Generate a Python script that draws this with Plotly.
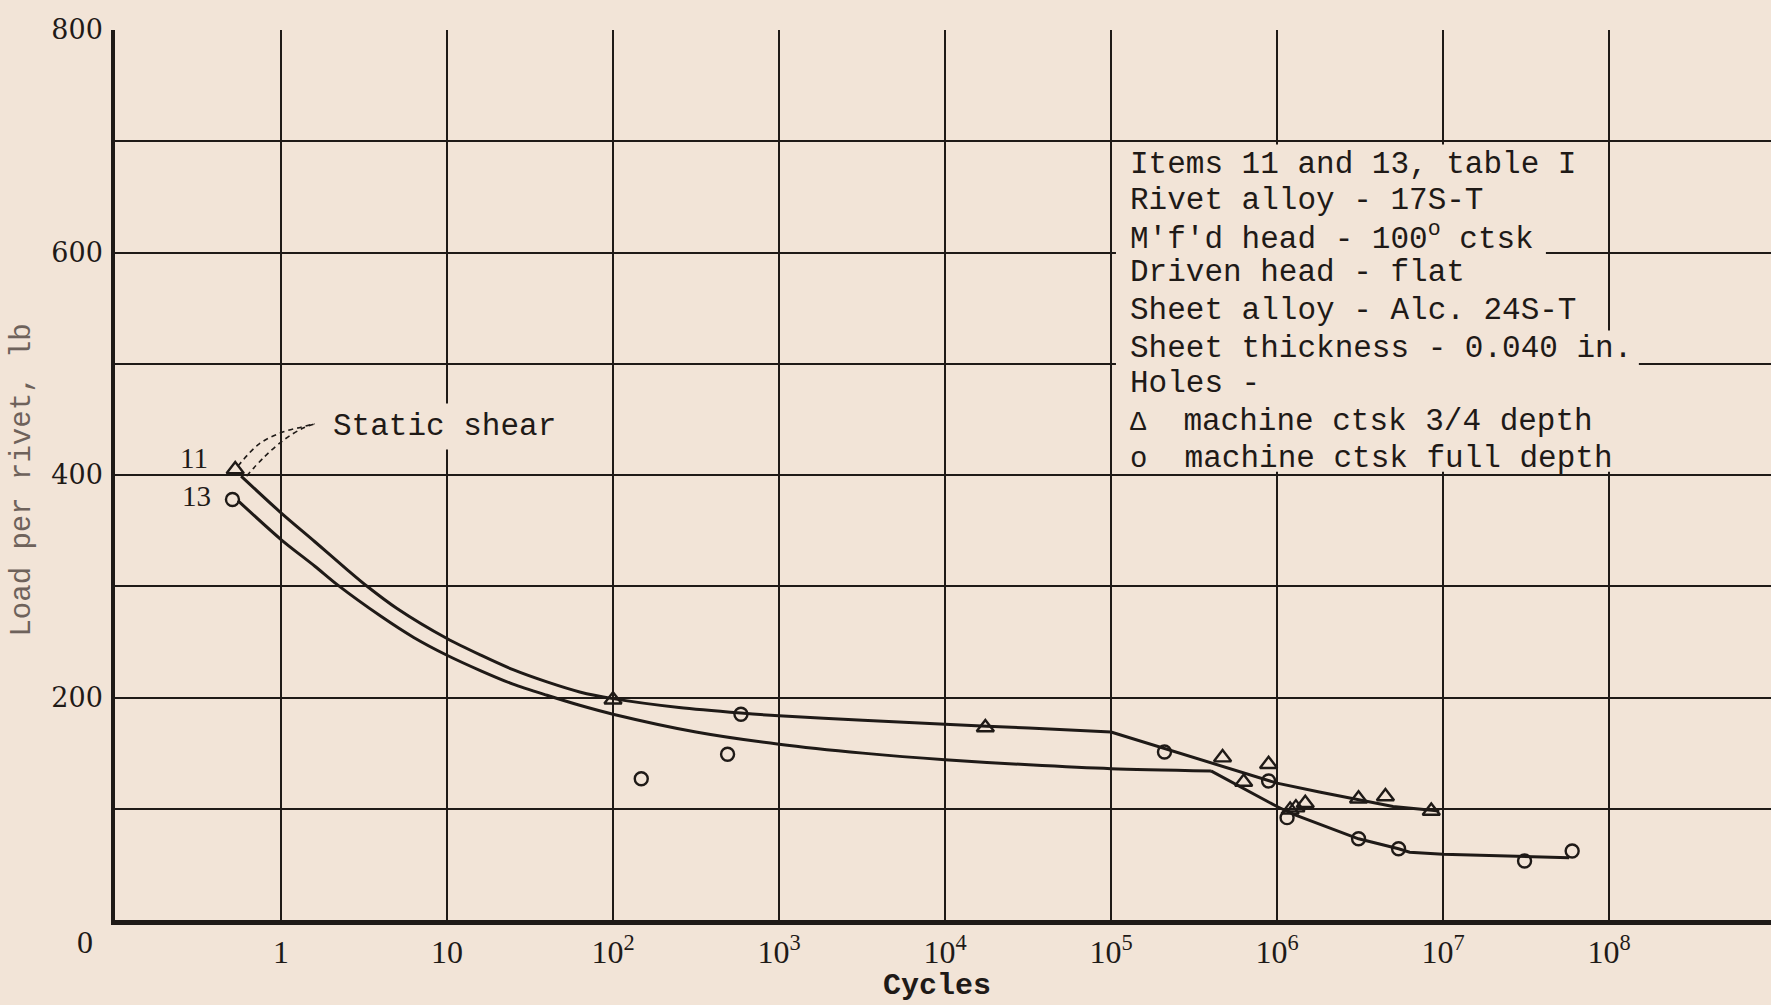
import plotly.graph_objects as go

# ---------------- data ----------------
# Static shear points (plotted just left of N = 1)
static_cycles = [0.53, 0.51]
static_loads = [405, 378]

# Triangle points: machine ctsk 3/4 depth
tri_cycles = [100, 17500, 470000, 630000, 890000, 1.2e6, 1.3e6, 1.48e6, 3.1e6, 4.5e6, 8.5e6]
tri_loads = [198, 173, 146, 124, 140, 99, 101, 105, 109, 111, 98]

# Circle points: machine ctsk full depth
cir_cycles = [148, 490, 590, 2.1e5, 8.9e5, 1.15e6, 3.1e6, 5.4e6, 3.1e7, 6.0e7]
cir_loads = [127, 149, 185, 151, 125, 92, 73, 64, 53, 62]

# Faired curve, item 11 (upper): smooth part, then straight part from the 1e5 knee
up_cycles = [0.575, 1, 1.6, 2.5, 3.3, 5, 10, 16, 25, 40, 63, 100, 250, 590, 1e3,
             3.2e3, 1e4, 3.2e4, 1e5, 2e5, 4.5e5, 1e6, 1.8e6, 3.1e6, 5e6, 9.5e6]
up_loads = [399, 366, 340, 315, 300, 280, 253, 238, 225, 214, 205, 199, 191, 186, 183.5,
            179.5, 176, 172.5, 169, 155, 139, 123, 115, 108, 102, 98]
up_knee = 18  # index of the 1e5 knee

# Faired curve, item 13 (lower): smooth part, then straight part from the 4e5 knee
lo_cycles = [0.55, 1, 1.6, 2.2, 4, 6.3, 10, 16, 25, 40, 63, 100, 316, 1e3, 3.2e3,
             1e4, 3.2e4, 1e5, 4e5, 1e6, 1.26e6, 3.1e6, 5.4e6, 6.3e6, 1e7, 3.2e7, 5.75e7]
lo_loads = [377, 342, 318, 301, 273, 254, 238, 224, 212, 202, 193, 185, 169, 158, 150,
            144, 139.5, 136, 134, 102, 95, 73, 64, 61, 59, 57, 56]
lo_knee = 18  # index of the 4e5 knee

# Dashed leaders to "Static shear"
lead1_cycles = [0.55, 0.74, 1.0, 1.32, 1.6]
lead1_loads = [408, 428, 438, 443, 446]
lead2_cycles = [0.62, 0.79, 1.05, 1.35, 1.6]
lead2_loads = [399, 416, 432, 442, 446]

x_tickvals = [1, 10, 100, 1e3, 1e4, 1e5, 1e6, 1e7, 1e8]
x_ticktext = ["1", "10", "10<sup>2</sup>", "10<sup>3</sup>", "10<sup>4</sup>",
              "10<sup>5</sup>", "10<sup>6</sup>", "10<sup>7</sup>", "10<sup>8</sup>"]
y_tickvals = [200, 400, 600, 800]
y_ticktext = ["200", "400", "600", "800"]

note_lines = [
    "Items 11 and 13, table I",
    "Rivet alloy - 17S-T",
    "M'f'd head - 100<sup>o</sup> ctsk",
    "Driven head - flat",
    "Sheet alloy - Alc. 24S-T",
    "Sheet thickness - 0.040 in.",
    "Holes -",
    "<span style='font-size:27px'>\u0394</span>\u00a0\u00a0machine ctsk 3/4 depth",
    "<span style='font-size:29px'>o</span>\u00a0\u00a0machine ctsk full depth",
]
note_loads = [679, 647, 614, 582, 548, 514, 482, 448, 415]

# ---------------- styling ----------------
PAPER = "#f2e4d7"
INK = "#1f1a17"
MONO = "Liberation Mono, Courier New, monospace"
SERIF = "Liberation Serif, Times New Roman, serif"
WSERIF = "DejaVu Serif, serif"

fig = go.Figure()

curve_line = dict(color=INK, width=3)
fig.add_trace(go.Scatter(x=up_cycles[:up_knee + 1], y=up_loads[:up_knee + 1], mode="lines",
                         line=dict(curve_line, shape="spline", smoothing=0.8)))
fig.add_trace(go.Scatter(x=up_cycles[up_knee:], y=up_loads[up_knee:], mode="lines",
                         line=curve_line))
fig.add_trace(go.Scatter(x=lo_cycles[:lo_knee + 1], y=lo_loads[:lo_knee + 1], mode="lines",
                         line=dict(curve_line, shape="spline", smoothing=0.8)))
fig.add_trace(go.Scatter(x=lo_cycles[lo_knee:], y=lo_loads[lo_knee:], mode="lines",
                         line=curve_line))
fig.add_trace(go.Scatter(x=lead1_cycles, y=lead1_loads, mode="lines",
                         line=dict(color=INK, width=1.6, dash="5px,4px", shape="spline")))
fig.add_trace(go.Scatter(x=lead2_cycles, y=lead2_loads, mode="lines",
                         line=dict(color=INK, width=1.6, dash="5px,4px", shape="spline")))
fig.add_trace(go.Scatter(x=tri_cycles + [static_cycles[0]], y=tri_loads + [static_loads[0]],
                         mode="markers",
                         marker=dict(symbol="triangle-up-open", size=15, color=INK,
                                     line=dict(width=2.4, color=INK))))
fig.add_trace(go.Scatter(x=cir_cycles + [static_cycles[1]], y=cir_loads + [static_loads[1]],
                         mode="markers",
                         marker=dict(symbol="circle-open", size=13, color=INK,
                                     line=dict(width=2.4, color=INK))))

annotations = []
for txt, yv in zip(note_lines, note_loads):
    annotations.append(dict(x=5.1, y=yv, xref="x", yref="y", text=txt, showarrow=False,
                            xanchor="left", yanchor="middle",
                            font=dict(family=MONO, size=31, color=INK)))
annotations += [
    dict(x=0.278, y=444, xref="x", yref="y", text="Static shear", showarrow=False,
         xanchor="left", yanchor="middle", bgcolor=PAPER, borderpad=5,
         font=dict(family=MONO, size=31, color=INK)),
    dict(x=-0.427, y=415, xref="x", yref="y", text="11", showarrow=False,
         xanchor="right", yanchor="middle", font=dict(family=SERIF, size=29, color=INK)),
    dict(x=-0.409, y=381, xref="x", yref="y", text="13", showarrow=False,
         xanchor="right", yanchor="middle", font=dict(family=SERIF, size=29, color=INK)),
    dict(x=-1, y=0, xref="x", yref="y", text="0", showarrow=False, xshift=-30, yshift=-22,
         xanchor="center", yanchor="middle", font=dict(family=SERIF, size=32, color=INK)),
    dict(x=0.4964, y=0, xref="paper", yref="paper", text="<b>Cycles</b>", showarrow=False,
         yshift=-85, xanchor="center", yanchor="bottom",
         font=dict(family=MONO, size=30, color=INK)),
    dict(x=0, y=395, xref="paper", yref="y", text="Load per rivet, lb", showarrow=False,
         xshift=-92, textangle=-90, xanchor="center", yanchor="middle",
         font=dict(family=MONO, size=29, color="#6e625b")),
]

shapes = [
    dict(type="rect", xref="x", yref="y", x0=10 ** 5.03, x1=10 ** 7.62, y0=403, y1=697,
         fillcolor=PAPER, line=dict(width=0), layer="above"),
    dict(type="rect", xref="x", yref="y", x0=10 ** 7.6, x1=10 ** 8.18, y0=403, y1=530,
         fillcolor=PAPER, line=dict(width=0), layer="above"),
]

fig.update_layout(
    width=1771, height=1005,
    margin=dict(l=115, r=0, t=30, b=85),
    paper_bgcolor=PAPER, plot_bgcolor=PAPER,
    showlegend=False,
    annotations=annotations,
    shapes=shapes,
    xaxis=dict(type="log", range=[-1, 8.976], tickvals=x_tickvals, ticktext=x_ticktext,
               showgrid=True, gridcolor=INK, gridwidth=2.2, zeroline=False,
               showline=True, linecolor=INK, linewidth=5, ticks="",
               tickfont=dict(family=SERIF, size=32, color=INK)),
    yaxis=dict(range=[0, 800], tickvals=y_tickvals, ticktext=y_ticktext,
               showgrid=True, gridcolor=INK, gridwidth=2, zeroline=False,
               minor=dict(dtick=100, showgrid=True, gridcolor=INK, gridwidth=2, ticks=""),
               showline=True, linecolor=INK, linewidth=3.5, ticks="",
               ticklabelstandoff=3,
               tickfont=dict(family=WSERIF, size=27, color=INK)),
)

fig.write_html("out.html", config={"displayModeBar": False},
               post_script="document.body.style.margin='0px';")
